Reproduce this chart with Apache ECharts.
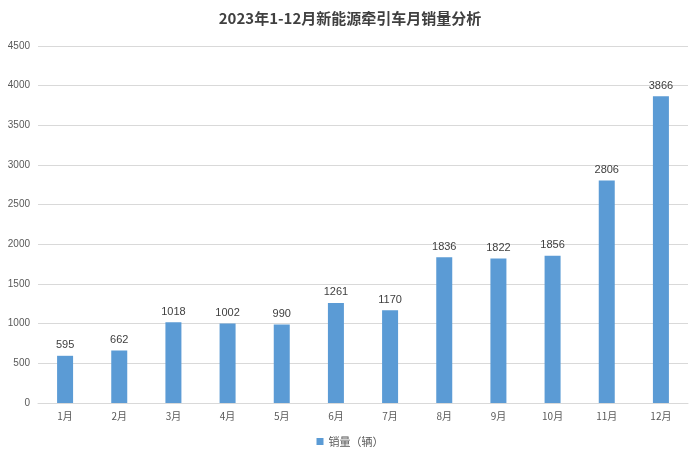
<!DOCTYPE html>
<html><head><meta charset="utf-8">
<script src="https://cdn.jsdelivr.net/npm/echarts@6/dist/echarts.min.js"></script>
<style>html,body{margin:0;padding:0;background:#fff}#c{width:700px;height:458px}</style>
</head><body><div id="c"></div>
<script>
const categories = ['1月','2月','3月','4月','5月','6月','7月','8月','9月','10月','11月','12月'];
const sales = [595,662,1018,1002,990,1261,1170,1836,1822,1856,2806,3866];
const seriesName = '销量（辆）';
const chart = echarts.init(document.getElementById('c'));
chart.setOption({
  animation:false,
  title:{text:'2023年1-12月新能源牵引车月销量分析',left:'center',top:6,
    textStyle:{fontFamily:'Noto Sans CJK SC',fontSize:15,fontWeight:'bold',color:'#404040'}},
  grid:{left:38,right:12,top:46,bottom:55},
  legend:{bottom:6,itemWidth:7,itemHeight:7,icon:'rect',
    textStyle:{fontFamily:'Noto Sans CJK SC',fontSize:11,color:'#595959'}},
  xAxis:{type:'category',data:categories,
    axisLine:{lineStyle:{color:'#d9d9d9'}},axisTick:{show:false},
    axisLabel:{color:'#595959',fontSize:10,fontFamily:'Noto Sans CJK SC'}},
  yAxis:{type:'value',min:0,max:4500,interval:500,
    axisLabel:{color:'#595959',fontSize:10,formatter:v=>String(v)},
    splitLine:{lineStyle:{color:'#d9d9d9'}}},
  series:[{name:seriesName,type:'bar',data:sales,barWidth:16,
    itemStyle:{color:'#5B9BD5'},
    label:{show:true,position:'top',color:'#404040',fontSize:11}}]
});
</script></body></html>
